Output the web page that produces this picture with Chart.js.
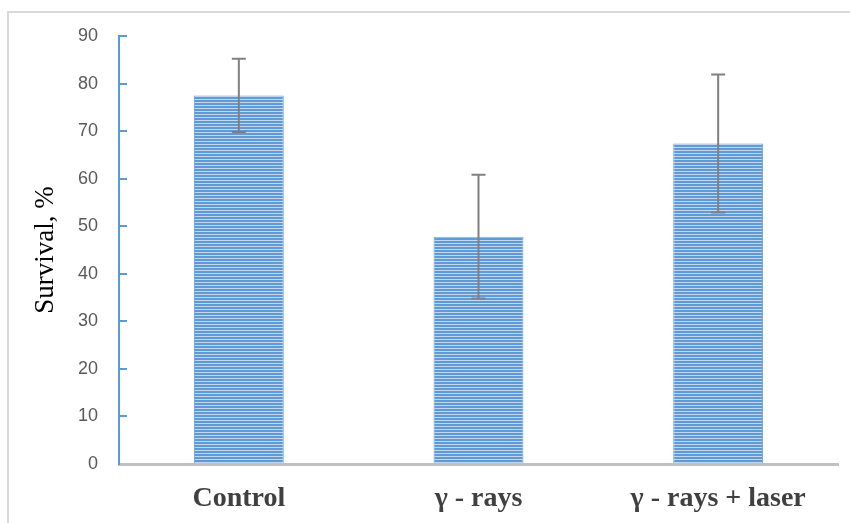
<!DOCTYPE html>
<html>
<head>
<meta charset="utf-8">
<script src="https://cdn.jsdelivr.net/npm/chart.js@4"></script>
<style>
  body { margin: 0; background: #fff; }
</style>
</head>
<body>
<canvas id="chart" width="850" height="523"></canvas>
<script>
const groups = ["Control", "γ - rays", "γ - rays + laser"];
const survival = [77.5, 47.8, 67.4];
const errors = [7.7, 13, 14.5];

// striped fill like the original bars
const stripe = document.createElement("canvas");
stripe.width = 4;
stripe.height = 3;
const sctx = stripe.getContext("2d");
sctx.fillStyle = "#5e9bd6";
sctx.fillRect(0, 0, 4, 3);
sctx.fillStyle = "#c3d8f0";
sctx.fillRect(0, 0, 4, 1);
const ctx = document.getElementById("chart");
const pattern = ctx.getContext("2d").createPattern(stripe, "repeat");

const frame = {
    id: "frame",
    beforeDraw(chart) {
        const c = chart.ctx;
        c.save();
        c.strokeStyle = "#d9d9d9";
        c.lineWidth = 2;
        c.beginPath();
        c.moveTo(8, 523);
        c.lineTo(8, 12);
        c.lineTo(850, 12);
        c.stroke();
        c.restore();
    }
};

const errorBars = {
    id: "errorBars",
    afterDatasetsDraw(chart) {
        const c = chart.ctx;
        const y = chart.scales.y;
        const meta = chart.getDatasetMeta(0);
        c.save();
        c.strokeStyle = "#808080";
        c.lineWidth = 2;
        meta.data.forEach((bar, i) => {
            const top = y.getPixelForValue(survival[i] + errors[i]);
            const bot = y.getPixelForValue(survival[i] - errors[i]);
            c.beginPath();
            c.moveTo(bar.x, top);
            c.lineTo(bar.x, bot);
            c.moveTo(bar.x - 7, top);
            c.lineTo(bar.x + 7, top);
            c.moveTo(bar.x - 7, bot);
            c.lineTo(bar.x + 7, bot);
            c.stroke();
        });
        c.restore();
    }
};

const chart = new Chart(ctx, {
    type: "bar",
    data: {
        labels: groups,
        datasets: [{
            data: survival,
            backgroundColor: pattern,
            borderColor: "#6a9fd8",
            borderWidth: 1,
            categoryPercentage: 1,
            barPercentage: 0.375
        }]
    },
    options: {
        responsive: false,
        animation: false,
        layout: { padding: { top: 36, right: 12, left: 0, bottom: 0 } },
        plugins: {
            legend: { display: false },
            tooltip: { enabled: false }
        },
        scales: {
            x: {
                grid: { drawOnChartArea: false, drawTicks: false },
                border: { color: "#c0c0c0", width: 3 },
                ticks: {
                    color: "#404040",
                    padding: 18,
                    font: { family: "Liberation Serif", size: 28, weight: "bold" }
                },
                afterFit: s => { s.height = 59; }
            },
            y: {
                min: 0,
                max: 90,
                ticks: {
                    stepSize: 10,
                    color: "#595959",
                    padding: 29,
                    font: { family: "Liberation Sans", size: 18 }
                },
                grid: { drawOnChartArea: false, drawTicks: true, tickLength: -8, color: "#5b9bd5", lineWidth: 2 },
                border: { color: "#5b9bd5", width: 2 },
                title: {
                    display: true,
                    text: "Survival, %",
                    color: "#000",
                    padding: { top: 30, bottom: 0 },
                    font: { family: "Liberation Serif", size: 27 }
                },
                afterFit: s => {
                    s.width = 119;
                    s.paddingTop = 10;
                    s.paddingBottom = 10;
                }
            }
        }
    },
    plugins: [frame, errorBars]
});
</script>
</body>
</html>
